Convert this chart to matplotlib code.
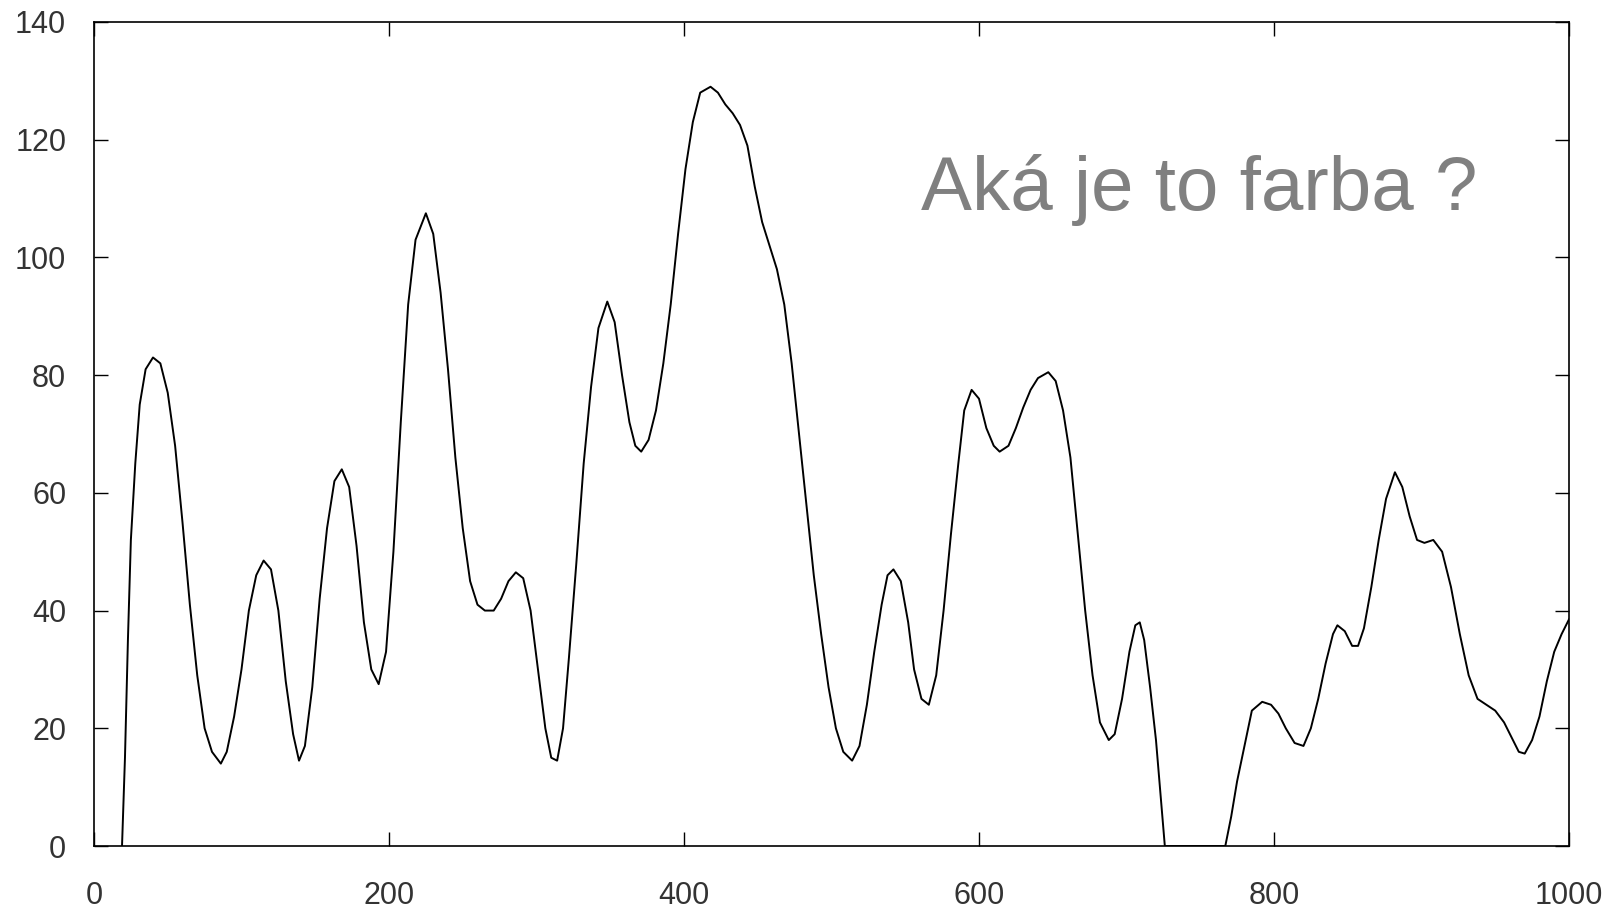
import matplotlib.pyplot as plt

plt.rcParams['font.family'] = ['Liberation Sans', 'DejaVu Sans']

# values (one line per stretch of the curve)
x_vals = [19, 21, 23, 25, 28, 31, 35, 40, 45, 50, 55, 60, 65, 70, 75, 80, 86,
          90, 95, 100, 105, 110, 115, 120, 125, 130, 135, 139,
          143, 148, 153, 158, 163, 168, 173, 178, 183, 188, 193,
          198, 203, 208, 213, 218, 225, 230, 235, 240, 245, 250, 255, 260, 265, 271,
          276, 281, 286, 291, 296, 301, 306, 310, 314,
          318, 322, 327, 332, 337, 342, 348, 353, 358, 363, 367, 371,
          376, 381, 386, 391, 396, 401, 406, 411, 418, 423, 428, 433, 438, 443,
          448, 453, 458, 463, 468, 473, 478, 483, 488, 493, 498, 503, 508, 514,
          519, 524, 529, 534, 538, 542, 547, 552, 556, 561, 566,
          571, 576, 581, 586, 590, 595, 600, 605, 610, 614, 620, 625, 630, 635,
          640, 647, 652, 657, 662, 667, 672, 677, 682, 688,
          692, 697, 702, 706, 709, 712, 716, 720, 723, 726,
          745, 767, 771, 775, 780, 785, 792, 798, 803, 808, 814, 820,
          825, 830, 835, 840, 843, 848, 853, 857, 861, 866, 871, 876, 882, 887,
          892, 897, 902, 908, 914, 920, 926, 932, 938, 944, 950, 956, 962, 966, 970,
          975, 980, 985, 990, 995, 1000]
y_vals = [0, 15, 35, 52, 65, 75, 81, 83, 82, 77, 68, 55, 41, 29, 20, 16, 14,
          16, 22, 30, 40, 46, 48.5, 47, 40, 28, 19, 14.5,
          17, 27, 42, 54, 62, 64, 61, 51, 38, 30, 27.5,
          33, 50, 72, 92, 103, 107.5, 104, 94, 81, 66, 54, 45, 41, 40, 40,
          42, 45, 46.5, 45.5, 40, 30, 20, 15, 14.5,
          20, 32, 48, 65, 78, 88, 92.5, 89, 80, 72, 68, 67,
          69, 74, 82, 92, 104, 115, 123, 128, 129, 128, 126, 124.5, 122.5, 119,
          112, 106, 102, 98, 92, 82, 70, 58, 46, 36, 27, 20, 16, 14.5,
          17, 24, 33, 41, 46, 47, 45, 38, 30, 25, 24,
          29, 40, 53, 65, 74, 77.5, 76, 71, 68, 67, 68, 71, 74.5, 77.5,
          79.5, 80.5, 79, 74, 66, 53, 40, 29, 21, 18,
          19, 25, 33, 37.5, 38, 35, 27, 18, 9, 0,
          0, 0, 5, 11, 17, 23, 24.5, 24, 22.5, 20, 17.5, 17,
          20, 25, 31, 36, 37.5, 36.5, 34, 34, 37, 44, 52, 59, 63.5, 61,
          56, 52, 51.5, 52, 50, 44, 36, 29, 25, 24, 23, 21, 18, 16, 15.7,
          18, 22, 28, 33, 36, 38.5]
x_ticks = [0, 200, 400, 600, 800, 1000]
y_ticks = [0, 20, 40, 60, 80, 100, 120, 140]
note = 'Aká je to farba ?'

fig = plt.figure(figsize=(16.15, 9.09), dpi=100)
ax = fig.add_axes([0.0582, 0.0693, 0.9133, 0.9065])
ax.plot(x_vals, y_vals, color='black', linewidth=1.4)

ax.set_xlim(0, 1000)
ax.set_ylim(0, 140)
ax.set_xticks(x_ticks)
ax.set_yticks(y_ticks)
ax.tick_params(direction='in', length=10, width=1, labelsize=22,
               labelcolor='#333333', top=True, right=True)
ax.tick_params(axis='x', pad=25)
ax.tick_params(axis='y', pad=20)
for sp in ax.spines.values():
    sp.set_linewidth(1.2)

ax.text(0.561, 0.772, note, transform=ax.transAxes, fontsize=55, color='#808080',
        ha='left', va='baseline')

fig.savefig('out.png', dpi=100)
